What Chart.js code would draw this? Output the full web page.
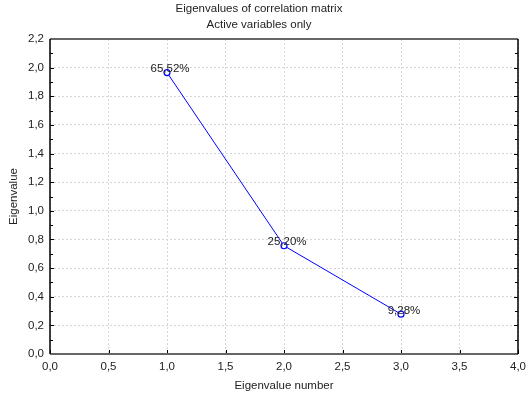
<!DOCTYPE html>
<html>
<head>
<meta charset="utf-8">
<script src="https://cdn.jsdelivr.net/npm/chart.js@4/dist/chart.umd.min.js"></script>
<style>
  html, body { margin: 0; padding: 0; background: #fff; }
  #eigenChart { display: block; }
</style>
</head>
<body>
<canvas id="eigenChart" width="527" height="396"></canvas>
<script>
// scree plot data
var eigenNumbers = [1, 2, 3];
var eigenValues = [1.9656, 0.7560, 0.2784];
var percentLabels = ['65,52%', '25,20%', '9,28%'];
var titleLines = ['Eigenvalues of correlation matrix', 'Active variables only'];

var fontFamily = '"Liberation Sans", Arial, sans-serif';
var fontSize = 11.5;

function commaNum(v) {
    return v.toFixed(1).replace('.', ',');
}

// frame, inward tick marks and the percent labels
var framePlugin = {
    id: 'framePlugin',
    afterDraw: function(chart) {
        var ctx = chart.ctx;
        var a = chart.chartArea;
        var xs = chart.scales.x;
        var ys = chart.scales.y;
        ctx.save();

        // tick marks (major + minor) pointing inside the plot
        ctx.strokeStyle = '#000';
        ctx.lineWidth = 1;
        for (var v = 0; v <= 2.2001; v += 0.1) {
            var py = Math.round(ys.getPixelForValue(v)) + 0.5;
            var major = Math.round(v * 10) % 2 === 0;
            var len = major ? 4 : 3;
            ctx.beginPath();
            ctx.moveTo(a.left, py);
            ctx.lineTo(a.left + len, py);
            ctx.moveTo(a.right, py);
            ctx.lineTo(a.right - len, py);
            ctx.stroke();
        }
        for (var u = 0; u <= 4.0001; u += 0.5) {
            var px = Math.round(xs.getPixelForValue(u)) + 0.5;
            ctx.beginPath();
            ctx.moveTo(px, a.bottom);
            ctx.lineTo(px, a.bottom - 4);
            ctx.stroke();
        }

        // box round the plot
        ctx.strokeStyle = '#666';
        ctx.lineWidth = 2;
        ctx.beginPath();
        ctx.moveTo(a.left, a.top);
        ctx.lineTo(a.right, a.top);
        ctx.moveTo(a.left, a.bottom);
        ctx.lineTo(a.right, a.bottom);
        ctx.stroke();
        ctx.strokeStyle = '#000';
        ctx.lineWidth = 1.5;
        ctx.beginPath();
        ctx.moveTo(a.left, a.top);
        ctx.lineTo(a.left, a.bottom);
        ctx.moveTo(a.right, a.top);
        ctx.lineTo(a.right, a.bottom);
        ctx.stroke();

        // percent labels above each point
        var meta = chart.getDatasetMeta(0);
        ctx.font = fontSize + 'px ' + fontFamily;
        ctx.fillStyle = '#222';
        ctx.textAlign = 'center';
        ctx.textBaseline = 'bottom';
        meta.data.forEach(function(pt, i) {
            ctx.fillText(percentLabels[i], pt.x + 3, pt.y + 2);
        });
        ctx.restore();
    }
};

var points = eigenNumbers.map(function(n, i) {
    return { x: n, y: eigenValues[i] };
});

var eigenChart = new Chart(document.getElementById('eigenChart'), {
    type: 'line',
    data: {
        datasets: [{
            data: points,
            borderColor: '#0000ff',
            borderWidth: 1,
            backgroundColor: '#ffffff',
            pointBorderColor: '#0000ff',
            pointBackgroundColor: '#ffffff',
            pointBorderWidth: 1.2,
            pointRadius: 3,
            lineTension: 0,
            fill: false
        }]
    },
    options: {
        responsive: false,
        animation: false,
        layout: { padding: { top: 0, right: 9, bottom: 0, left: 0 } },
        plugins: {
            legend: { display: false },
            tooltip: { enabled: false },
            title: {
                display: true,
                text: titleLines,
                color: '#222',
                font: { family: fontFamily, size: fontSize, weight: 'normal', lineHeight: 16 / fontSize },
                padding: { top: 1, bottom: 6 }
            }
        },
        scales: {
            x: {
                type: 'linear',
                min: 0,
                max: 4,
                ticks: {
                    stepSize: 0.5,
                    color: '#222',
                    padding: 6,
                    maxRotation: 0,
                    font: { family: fontFamily, size: fontSize },
                    callback: function(v) { return commaNum(v); }
                },
                grid: {
                    color: '#d6d6d6',
                    lineWidth: 1,
                    drawTicks: false
                },
                border: { display: false, dash: [2, 2] },
                title: {
                    display: true,
                    text: 'Eigenvalue number',
                    color: '#222',
                    font: { family: fontFamily, size: fontSize },
                    padding: { top: 0, bottom: 3 }
                },
                afterFit: function(scale) {
                    scale.height = 42;
                    scale.paddingLeft = 0;
                    scale.paddingRight = 0;
                }
            },
            y: {
                min: 0,
                max: 2.2,
                ticks: {
                    stepSize: 0.2,
                    color: '#222',
                    padding: 6,
                    font: { family: fontFamily, size: fontSize },
                    callback: function(v) { return commaNum(v); }
                },
                grid: {
                    color: '#d6d6d6',
                    lineWidth: 1,
                    drawTicks: false
                },
                border: { display: false, dash: [2, 2] },
                title: {
                    display: true,
                    text: 'Eigenvalue',
                    color: '#222',
                    font: { family: fontFamily, size: fontSize },
                    padding: { top: 7, bottom: 0 }
                },
                afterFit: function(scale) {
                    scale.width = 50;
                    scale.paddingTop = 0;
                    scale.paddingBottom = 0;
                }
            }
        }
    },
    plugins: [framePlugin]
});
</script>
</body>
</html>
